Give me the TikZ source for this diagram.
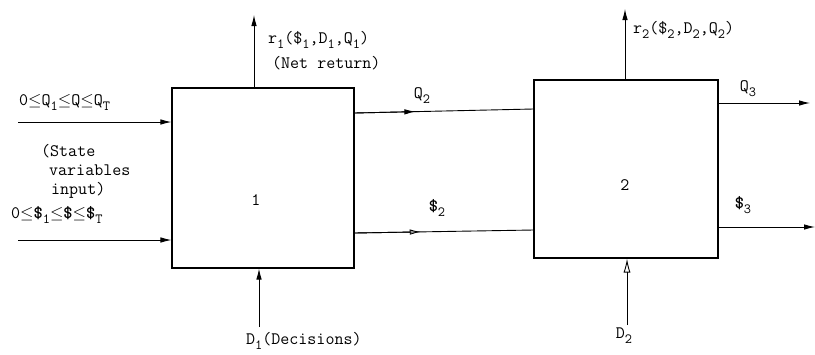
\documentclass[tikz,border=0pt]{standalone}
\usepackage{fontspec}
\usetikzlibrary{arrows.meta,calc}
\newcommand{\lowsub}[1]{\raisebox{-5pt}{\fontsize{14}{14}\selectfont #1}}
\begin{document}
\begin{tikzpicture}[x=1pt,y=-1pt,
  every node/.style={font=\ttfamily\fontsize{17.5}{19}\selectfont, inner sep=1pt},
  flow/.style={line width=0.9pt, -{Latex[length=11pt,width=5.5pt]}},
  lbl/.style={anchor=west}]
\useasboundingbox (0,0) rectangle (815,354);
\node[draw, line width=1.1pt, minimum width=182pt, minimum height=180pt] (b1) at (263,178) {};
\node[draw, line width=1.1pt, minimum width=184pt, minimum height=178pt] (b2) at (626,169) {};
\node (n1) at (256,200) {1};
\node (n2) at (625,185) {2};
% inputs
\coordinate (qin) at (18,122);
\coordinate (sin) at (18,240);
\draw[flow] (qin) -- (b1.west |- qin);
\draw[flow] (sin) -- (b1.west |- sin);
\node[lbl] (ql) at (18,103) {0$\leq$Q\lowsub{1}$\leq$Q$\leq$Q\lowsub{T}};
\node[lbl] (sl) at (10,215) {0$\leq$\textbf{\$}\lowsub{1}$\leq$\textbf{\$}$\leq$\textbf{\$}\lowsub{T}};
\node[align=left, anchor=north west] (sv) at (40,143) {(State\\\hspace*{8pt}variables\\\hspace*{10pt}input)};
% returns
\coordinate (r1t) at (254,15);
\draw[flow] (b1.north -| r1t) -- (r1t);
\node[lbl] (r1l) at (267,40) {r\lowsub{1}(\$\lowsub{1},D\lowsub{1},Q\lowsub{1})};
\node[lbl] (nr) at (271,63) {(Net return)};
\coordinate (r2t) at (625,9);
\draw[flow] (b2.north -| r2t) -- (r2t);
\node[lbl] (r2l) at (632,30) {r\lowsub{2}(\$\lowsub{2},D\lowsub{2},Q\lowsub{2})};
% connections between blocks
\coordinate (q2a) at (b1.east |- 0,113);
\coordinate (q2b) at (b2.west |- 0,109);
\draw[line width=0.9pt] (q2a) -- (q2b);
\draw[flow] (q2a) -- ($(q2a)!0.34!(q2b)$);
\node (q2l) at (422,96) {Q\lowsub{2}};
\coordinate (s2a) at (b1.east |- 0,233);
\coordinate (s2b) at (b2.west |- 0,230);
\draw[line width=0.9pt] (s2a) -- (s2b);
\draw[line width=0.9pt, -{Latex[open,length=11pt,width=5.5pt]}] (s2a) -- ($(s2a)!0.37!(s2b)$);
\node (s2l) at (437,208) {\textbf{\$}\lowsub{2}};
% outputs
\coordinate (q3e) at (810,103);
\draw[flow] (b2.east |- q3e) -- (q3e);
\node (q3l) at (748,89) {Q\lowsub{3}};
\coordinate (s3e) at (815,227);
\draw[flow] (b2.east |- s3e) -- (s3e);
\node (s3l) at (743,205) {\textbf{\$}\lowsub{3}};
% decisions
\coordinate (d1s) at (259,327);
\draw[flow] (d1s) -- (b1.south -| d1s);
\node[lbl] (d1l) at (245,341) {D\lowsub{1}(Decisions)};
\coordinate (d2s) at (627,325);
\draw[line width=0.9pt, -{Latex[open,length=14pt,width=7pt]}] (d2s) -- (b2.south -| d2s);
\node (d2l) at (624,336) {D\lowsub{2}};
\end{tikzpicture}
\end{document}
